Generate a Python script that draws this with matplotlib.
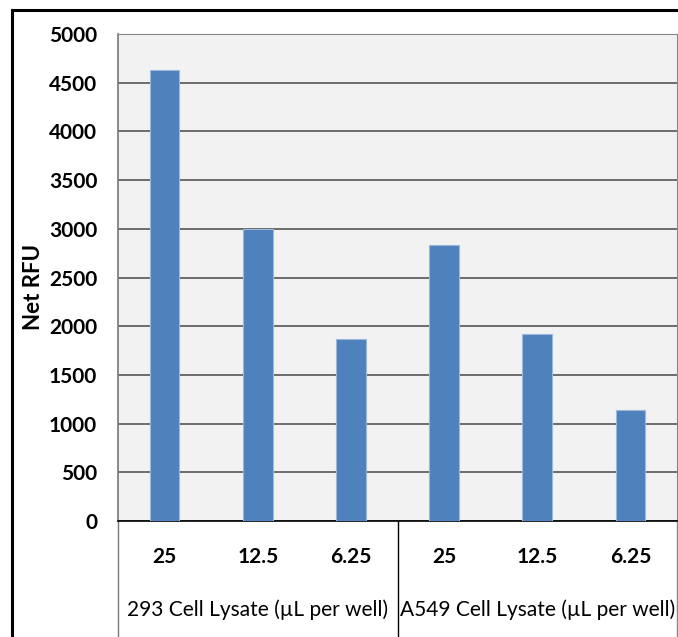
import matplotlib.pyplot as plt
from matplotlib.lines import Line2D
from matplotlib.transforms import blended_transform_factory

# lysate volumes (uL per well) and net fluorescence for each cell line
volumes = ["25", "12.5", "6.25", "25", "12.5", "6.25"]
groups = ["293 Cell Lysate (\u00b5L per well)", "A549 Cell Lysate (\u00b5L per well)"]
net_rfu = [4630, 3000, 1870, 2835, 1915, 1140]
yticks = list(range(0, 5001, 500))

plt.rcParams['font.family'] = ['Lato', 'DejaVu Sans']

W, H = 678, 637
fig = plt.figure(figsize=(W / 100, H / 100), dpi=100)
fig.patch.set_facecolor('white')

# plot area in pixel terms
left, right, top, bottom = 118, 677, 34, 521
ax = fig.add_axes([left / W, 1 - bottom / H, (right - left) / W, (bottom - top) / H])
ax.set_facecolor('#F2F2F2')

x = list(range(len(net_rfu)))
ax.bar(x, net_rfu, width=0.32, color='#4F81BD', edgecolor='#9BB7DA', linewidth=0.8, zorder=3)

ax.set_xlim(-0.5, len(net_rfu) - 0.5)
ax.set_ylim(0, 5000)
ax.set_yticks(yticks)
ax.set_yticklabels([str(t) for t in yticks], fontsize=15, fontweight='bold')
ax.tick_params(axis='y', length=0, pad=15)
ax.set_xticks([])
ax.yaxis.grid(True, color='#555555', linewidth=1.2, zorder=1)
ax.set_axisbelow(True)

for side in ['top', 'right']:
    ax.spines[side].set_color('#888888')
    ax.spines[side].set_linewidth(0.8)
ax.spines['left'].set_color('#777777')
ax.spines['left'].set_linewidth(1.2)
ax.spines['bottom'].set_color('black')
ax.spines['bottom'].set_linewidth(1.2)

# two-level category axis below the bars
trans = blended_transform_factory(ax.transData, ax.transAxes)
ax_h = bottom - top
for i, v in enumerate(volumes):
    ax.text(i, -(557 - bottom) / ax_h, v, transform=trans, ha='center', va='center',
            fontsize=15, fontweight='bold')
for g, name in enumerate(groups):
    ax.text(g * 3 + 1, -(610 - bottom) / ax_h, name, transform=trans, ha='center',
            va='center', fontsize=15)

y_low = -(H - bottom) / ax_h
for xs, col in [(-0.5, '#777777'), (2.5, 'black'), (5.5, '#888888')]:
    ax.plot([xs, xs], [0, y_low], transform=trans, color=col, linewidth=1.0,
            clip_on=False)

fig.text(33 / W, 1 - 287 / H, 'Net RFU', rotation=90, ha='center', va='center',
         fontsize=16, fontweight='bold')

# chart border, left and top edges
fig.add_artist(Line2D([12 / W, 12 / W], [0, 1 - 10 / H], color='black', linewidth=2.2))
fig.add_artist(Line2D([12 / W, 1], [1 - 10 / H, 1 - 10 / H], color='black', linewidth=2.2))

fig.savefig('out.png', dpi=100)
